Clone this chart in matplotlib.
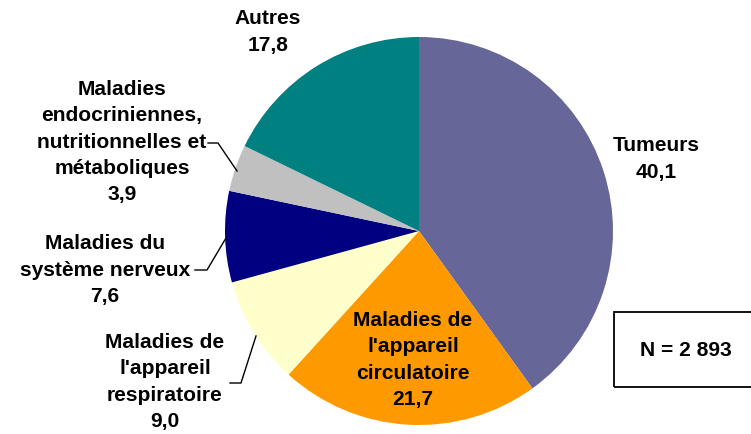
import matplotlib.pyplot as plt
from matplotlib.patches import Rectangle

# share of deaths by cause (%), clockwise from the top
causes = ["Tumeurs", "Maladies de\nl'appareil\ncirculatoire", "Maladies de\nl'appareil\nrespiratoire",
          "Maladies du\nsystème nerveux", "Maladies\nendocriniennes,\nnutritionnelles et\nmétaboliques",
          "Autres"]
values = [40.1, 21.7, 9.0, 7.6, 3.9, 17.8]
colors = ["#666699", "#FF9900", "#FFFFCC", "#000080", "#C0C0C0", "#008080"]
total_n = "N = 2 893"

W, H = 751, 434


def py(y):
    # pixel row (from top) -> data y
    return H - y


fig = plt.figure(figsize=(W / 100, H / 100), dpi=100)
ax = fig.add_axes([0, 0, 1, 1])

cx, cy, r = 419, 231, 194
ax.pie(values, colors=colors, startangle=90, counterclock=False,
       center=(cx, py(cy)), radius=r, frame=True,
       wedgeprops=dict(linewidth=0))
ax.set_xlim(0, W)
ax.set_ylim(0, H)
ax.set_aspect("equal")
ax.axis("off")

font = dict(family=["Liberation Sans", "DejaVu Sans"], fontweight="bold",
            fontsize=15.1, ha="center", va="center", linespacing=1.48)

# label centres in pixel coords
label_pos = [(656, 159), (413, 360), (165, 382), (105, 270), (122, 142), (268, 32)]
for name, v, (x, y) in zip(causes, values, label_pos):
    txt = name + "\n" + ("%.1f" % v).replace(".", ",")
    ax.text(x, py(y), txt, **font)

# leader lines
leaders = [
    [(230, 383), (241, 383), (256, 336)],
    [(195, 270), (207, 270), (226, 238)],
    [(208, 143), (218, 143), (237, 171)],
]
for pts in leaders:
    ax.plot([p[0] for p in pts], [py(p[1]) for p in pts], color="black", lw=1)

ax.add_patch(Rectangle((614, py(387)), 150, 75, fill=False, edgecolor="black",
                       lw=1.3, clip_on=False))
ax.text(686, py(350), total_n, **font)

fig.savefig("out.png", dpi=100)
